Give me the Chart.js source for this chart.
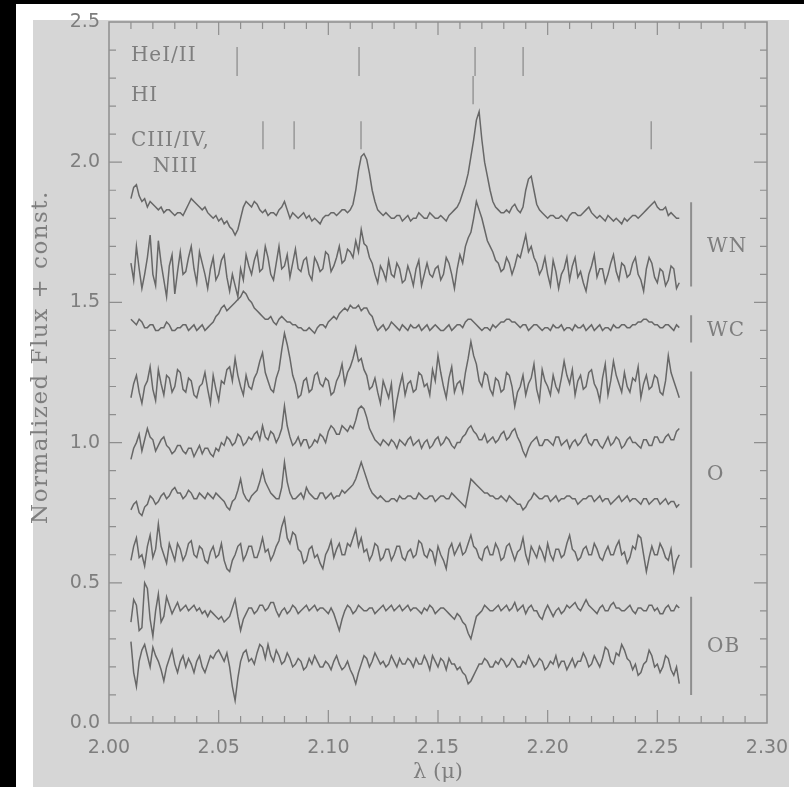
<!DOCTYPE html>
<html>
<head>
<meta charset="utf-8">
<script src="https://cdn.jsdelivr.net/npm/chart.js@4/dist/chart.umd.min.js"></script>
<style>
  html, body { margin: 0; padding: 0; background: #000; overflow: hidden; }
  #c { display: block; }
</style>
</head>
<body>
<canvas id="c" width="804" height="787"></canvas>
<script>
// wavelength grid (micron), 2.010 .. 2.260 every 0.00125
const lambdaStart = 2.010;
const lambdaStep = 0.00125;
const nPoints = 201;
const wavelengths = Array.from({ length: nPoints }, (_, i) => +(lambdaStart + i * lambdaStep).toFixed(5));

// normalized flux + offset, top to bottom
const wn1 = [
  1.87,1.91,1.92,1.88,1.86,1.87,1.84,1.86,1.85,1.84,1.83,1.84,1.82,1.83,1.83,1.82,1.81,1.82,1.82,1.81,
  1.83,1.85,1.87,1.86,1.85,1.84,1.83,1.84,1.82,1.81,1.80,1.81,1.79,1.80,1.78,1.79,1.77,1.76,1.74,1.76,
  1.80,1.84,1.86,1.85,1.84,1.86,1.85,1.83,1.82,1.83,1.81,1.82,1.82,1.81,1.83,1.84,1.86,1.83,1.80,1.82,
  1.81,1.80,1.81,1.82,1.80,1.81,1.79,1.80,1.79,1.78,1.80,1.81,1.81,1.82,1.82,1.81,1.82,1.83,1.83,1.82,
  1.83,1.85,1.90,1.97,2.02,2.03,2.01,1.96,1.90,1.86,1.83,1.82,1.81,1.82,1.81,1.80,1.80,1.81,1.81,1.79,
  1.80,1.81,1.79,1.80,1.80,1.82,1.81,1.80,1.80,1.82,1.81,1.80,1.80,1.81,1.80,1.79,1.81,1.82,1.83,1.84,
  1.86,1.89,1.92,1.96,2.02,2.08,2.15,2.18,2.08,2.00,1.95,1.90,1.86,1.84,1.83,1.82,1.82,1.83,1.82,1.84,
  1.85,1.83,1.82,1.84,1.90,1.94,1.95,1.90,1.85,1.83,1.82,1.81,1.80,1.81,1.81,1.80,1.80,1.81,1.80,1.79,
  1.81,1.82,1.82,1.81,1.81,1.82,1.83,1.84,1.82,1.81,1.80,1.81,1.80,1.79,1.81,1.80,1.79,1.80,1.79,1.78,
  1.80,1.79,1.80,1.81,1.81,1.80,1.81,1.82,1.83,1.84,1.85,1.86,1.84,1.83,1.83,1.84,1.81,1.82,1.81,1.80,
  1.80];
const wn2 = [
  1.64,1.58,1.70,1.62,1.55,1.60,1.66,1.74,1.60,1.56,1.72,1.64,1.58,1.52,1.63,1.67,1.53,1.61,1.68,1.60,
  1.61,1.66,1.70,1.62,1.57,1.68,1.64,1.60,1.55,1.62,1.66,1.58,1.60,1.65,1.67,1.59,1.54,1.60,1.56,1.52,
  1.62,1.58,1.67,1.63,1.60,1.65,1.68,1.61,1.62,1.70,1.66,1.60,1.58,1.64,1.70,1.62,1.63,1.67,1.59,1.64,
  1.69,1.62,1.61,1.65,1.66,1.60,1.58,1.66,1.64,1.61,1.62,1.68,1.67,1.61,1.63,1.66,1.70,1.64,1.65,1.69,
  1.68,1.66,1.72,1.68,1.76,1.71,1.70,1.66,1.64,1.60,1.57,1.63,1.61,1.58,1.65,1.60,1.59,1.64,1.62,1.57,
  1.58,1.63,1.60,1.56,1.62,1.65,1.56,1.60,1.64,1.60,1.59,1.62,1.63,1.58,1.60,1.66,1.64,1.60,1.55,1.62,
  1.67,1.64,1.70,1.73,1.75,1.80,1.86,1.83,1.80,1.76,1.72,1.70,1.68,1.65,1.64,1.61,1.62,1.66,1.64,1.60,
  1.63,1.67,1.66,1.70,1.74,1.68,1.70,1.66,1.64,1.60,1.62,1.66,1.60,1.56,1.65,1.61,1.55,1.60,1.62,1.66,
  1.58,1.63,1.66,1.59,1.61,1.57,1.54,1.60,1.63,1.67,1.59,1.62,1.62,1.57,1.60,1.64,1.67,1.61,1.58,1.64,
  1.63,1.59,1.60,1.64,1.66,1.60,1.58,1.54,1.62,1.66,1.64,1.59,1.57,1.62,1.61,1.56,1.58,1.63,1.62,1.55,
  1.57];
const wc1 = [
  1.44,1.43,1.42,1.44,1.43,1.41,1.41,1.42,1.42,1.40,1.40,1.41,1.41,1.43,1.42,1.40,1.40,1.41,1.41,1.42,
  1.42,1.40,1.41,1.42,1.40,1.41,1.42,1.40,1.41,1.42,1.43,1.45,1.46,1.48,1.49,1.47,1.48,1.49,1.50,1.51,
  1.52,1.54,1.53,1.51,1.50,1.48,1.47,1.46,1.45,1.44,1.44,1.45,1.43,1.42,1.44,1.45,1.44,1.43,1.43,1.42,
  1.42,1.41,1.41,1.40,1.40,1.41,1.40,1.39,1.41,1.42,1.42,1.41,1.43,1.44,1.45,1.44,1.46,1.47,1.48,1.47,
  1.49,1.48,1.48,1.49,1.47,1.48,1.48,1.46,1.45,1.42,1.40,1.41,1.42,1.40,1.41,1.43,1.42,1.41,1.40,1.42,
  1.41,1.40,1.42,1.41,1.41,1.42,1.40,1.41,1.42,1.40,1.41,1.42,1.41,1.40,1.40,1.41,1.42,1.40,1.41,1.42,
  1.42,1.41,1.43,1.44,1.44,1.43,1.42,1.41,1.40,1.41,1.41,1.40,1.42,1.41,1.42,1.43,1.43,1.44,1.44,1.43,
  1.43,1.42,1.41,1.42,1.42,1.40,1.41,1.42,1.42,1.41,1.40,1.41,1.41,1.40,1.42,1.41,1.41,1.42,1.40,1.41,
  1.41,1.40,1.42,1.41,1.41,1.42,1.40,1.41,1.42,1.40,1.41,1.42,1.40,1.41,1.41,1.40,1.42,1.41,1.41,1.42,
  1.42,1.41,1.41,1.42,1.42,1.43,1.43,1.44,1.44,1.43,1.43,1.42,1.42,1.41,1.41,1.42,1.42,1.41,1.40,1.42,
  1.41];
const o1 = [
  1.16,1.21,1.24,1.18,1.14,1.20,1.22,1.27,1.19,1.15,1.26,1.21,1.17,1.24,1.23,1.18,1.20,1.26,1.25,1.19,
  1.18,1.23,1.22,1.17,1.16,1.20,1.21,1.25,1.19,1.14,1.24,1.19,1.15,1.22,1.21,1.26,1.27,1.22,1.30,1.24,
  1.20,1.17,1.24,1.20,1.19,1.23,1.25,1.29,1.32,1.25,1.22,1.19,1.18,1.23,1.26,1.33,1.39,1.35,1.30,1.24,
  1.21,1.16,1.17,1.22,1.23,1.18,1.19,1.24,1.25,1.21,1.20,1.23,1.22,1.17,1.18,1.22,1.24,1.28,1.21,1.25,
  1.27,1.30,1.34,1.29,1.30,1.26,1.24,1.19,1.20,1.23,1.18,1.14,1.22,1.19,1.16,1.21,1.09,1.15,1.20,1.24,
  1.17,1.21,1.22,1.18,1.19,1.25,1.24,1.20,1.21,1.17,1.26,1.22,1.31,1.25,1.20,1.16,1.23,1.27,1.18,1.21,
  1.22,1.18,1.25,1.30,1.36,1.31,1.28,1.22,1.20,1.25,1.24,1.19,1.17,1.23,1.22,1.18,1.19,1.25,1.24,1.20,
  1.13,1.18,1.20,1.24,1.17,1.21,1.23,1.28,1.19,1.15,1.26,1.22,1.20,1.17,1.24,1.20,1.18,1.23,1.29,1.24,
  1.21,1.26,1.17,1.22,1.24,1.19,1.20,1.25,1.26,1.21,1.19,1.15,1.23,1.28,1.17,1.22,1.29,1.24,1.21,1.18,
  1.25,1.20,1.18,1.23,1.22,1.27,1.16,1.21,1.24,1.19,1.20,1.24,1.23,1.18,1.17,1.22,1.31,1.25,1.22,1.19,
  1.16];
const o2 = [
  0.94,0.98,1.00,1.03,0.97,1.01,1.05,1.02,1.01,0.97,0.99,1.01,1.02,0.99,0.98,0.96,0.97,0.99,0.99,0.97,
  0.96,0.98,0.98,0.95,0.97,0.99,0.96,0.98,0.98,0.96,0.95,0.98,0.97,1.00,0.99,1.02,1.01,0.99,1.00,1.03,
  1.02,0.99,1.00,1.02,1.01,1.03,1.04,1.01,1.06,1.02,1.01,1.04,1.03,1.00,1.02,1.05,1.13,1.06,1.02,0.99,
  1.00,1.02,0.99,1.01,1.01,0.98,0.99,1.01,1.00,1.03,1.02,1.00,1.04,1.06,1.05,1.03,1.03,1.06,1.05,1.04,
  1.06,1.05,1.08,1.12,1.13,1.12,1.09,1.05,1.03,1.01,1.00,0.99,1.01,1.00,0.99,1.01,1.00,0.98,1.01,1.00,
  0.99,1.01,1.02,0.99,1.00,1.01,0.98,1.00,1.01,0.98,0.99,1.01,1.02,0.99,1.00,1.02,1.01,0.99,0.98,1.00,
  1.00,1.02,1.03,1.05,1.06,1.04,1.03,1.01,1.01,1.03,1.00,1.01,1.02,1.00,1.01,1.03,1.04,1.01,1.02,1.04,
  1.05,1.02,1.00,0.97,0.95,0.98,1.00,1.01,1.02,0.99,0.99,1.01,1.01,1.00,0.99,1.02,1.02,0.99,1.00,1.01,
  0.98,1.00,1.01,0.99,1.00,1.02,1.03,1.00,0.99,1.01,1.01,0.99,0.98,1.00,1.02,0.99,1.00,1.02,1.01,0.98,
  0.99,1.01,1.02,1.00,1.00,0.99,0.98,1.01,1.01,0.99,0.99,1.02,1.02,1.00,1.00,1.02,1.03,1.01,1.01,1.04,
  1.05];
const o3 = [
  0.76,0.78,0.79,0.75,0.74,0.77,0.78,0.81,0.80,0.78,0.79,0.81,0.82,0.80,0.81,0.83,0.84,0.82,0.82,0.80,
  0.81,0.83,0.82,0.80,0.80,0.82,0.81,0.80,0.82,0.81,0.80,0.82,0.81,0.80,0.79,0.77,0.76,0.79,0.80,0.83,
  0.87,0.82,0.80,0.79,0.81,0.82,0.83,0.86,0.90,0.86,0.84,0.82,0.81,0.80,0.80,0.84,0.93,0.86,0.82,0.80,
  0.80,0.81,0.82,0.80,0.84,0.82,0.81,0.80,0.80,0.82,0.82,0.80,0.81,0.82,0.80,0.81,0.81,0.83,0.82,0.83,
  0.84,0.85,0.87,0.90,0.93,0.90,0.87,0.84,0.82,0.81,0.80,0.81,0.80,0.79,0.79,0.80,0.80,0.79,0.81,0.80,
  0.80,0.81,0.81,0.80,0.80,0.82,0.81,0.80,0.80,0.81,0.81,0.79,0.80,0.81,0.81,0.80,0.80,0.82,0.81,0.80,
  0.79,0.78,0.77,0.82,0.87,0.86,0.85,0.84,0.83,0.82,0.82,0.81,0.81,0.80,0.80,0.81,0.80,0.79,0.81,0.80,
  0.79,0.78,0.78,0.76,0.77,0.79,0.80,0.82,0.81,0.80,0.80,0.81,0.81,0.79,0.80,0.81,0.79,0.80,0.80,0.81,
  0.81,0.80,0.80,0.78,0.79,0.80,0.80,0.81,0.81,0.79,0.80,0.81,0.79,0.80,0.80,0.78,0.79,0.80,0.81,0.79,
  0.80,0.81,0.79,0.80,0.80,0.79,0.78,0.80,0.80,0.78,0.79,0.80,0.80,0.78,0.79,0.80,0.78,0.79,0.79,0.77,
  0.78];
const o4 = [
  0.58,0.63,0.66,0.59,0.60,0.56,0.63,0.67,0.59,0.62,0.71,0.63,0.60,0.57,0.64,0.61,0.58,0.64,0.62,0.58,
  0.60,0.64,0.65,0.60,0.59,0.63,0.62,0.58,0.57,0.61,0.63,0.59,0.60,0.64,0.58,0.55,0.54,0.58,0.60,0.63,
  0.64,0.58,0.60,0.63,0.63,0.59,0.59,0.62,0.66,0.61,0.62,0.58,0.60,0.63,0.65,0.70,0.73,0.66,0.64,0.68,
  0.67,0.62,0.61,0.57,0.58,0.62,0.63,0.59,0.60,0.57,0.55,0.60,0.62,0.65,0.59,0.62,0.64,0.60,0.60,0.64,
  0.63,0.66,0.69,0.63,0.66,0.61,0.62,0.58,0.60,0.64,0.63,0.58,0.59,0.62,0.62,0.58,0.60,0.63,0.63,0.59,
  0.58,0.61,0.62,0.59,0.60,0.65,0.64,0.60,0.59,0.62,0.61,0.57,0.63,0.60,0.58,0.55,0.62,0.64,0.60,0.62,
  0.64,0.60,0.61,0.64,0.67,0.63,0.62,0.59,0.58,0.62,0.63,0.60,0.60,0.64,0.62,0.58,0.59,0.63,0.64,0.61,
  0.58,0.61,0.62,0.66,0.60,0.57,0.63,0.61,0.59,0.63,0.61,0.58,0.64,0.60,0.58,0.62,0.62,0.59,0.60,0.64,
  0.67,0.62,0.61,0.58,0.59,0.62,0.63,0.60,0.60,0.64,0.62,0.59,0.58,0.61,0.63,0.60,0.60,0.63,0.65,0.60,
  0.61,0.57,0.59,0.63,0.62,0.67,0.66,0.60,0.54,0.59,0.63,0.60,0.60,0.64,0.62,0.59,0.58,0.62,0.54,0.58,
  0.60];
const ob1 = [
  0.36,0.44,0.42,0.33,0.34,0.50,0.48,0.37,0.31,0.40,0.46,0.36,0.38,0.45,0.42,0.39,0.41,0.43,0.40,0.41,
  0.42,0.40,0.41,0.42,0.40,0.41,0.39,0.40,0.38,0.40,0.39,0.38,0.37,0.38,0.36,0.37,0.38,0.41,0.44,0.38,
  0.33,0.37,0.39,0.41,0.41,0.39,0.40,0.42,0.42,0.40,0.41,0.43,0.43,0.40,0.38,0.40,0.41,0.39,0.40,0.42,
  0.41,0.39,0.40,0.41,0.42,0.40,0.41,0.42,0.40,0.41,0.41,0.40,0.39,0.41,0.39,0.36,0.33,0.37,0.40,0.42,
  0.41,0.39,0.40,0.42,0.41,0.40,0.40,0.41,0.41,0.39,0.40,0.41,0.42,0.40,0.41,0.42,0.40,0.41,0.42,0.40,
  0.41,0.42,0.40,0.41,0.41,0.40,0.39,0.41,0.40,0.42,0.41,0.39,0.40,0.41,0.41,0.40,0.39,0.38,0.37,0.39,
  0.38,0.36,0.35,0.32,0.30,0.34,0.38,0.39,0.40,0.42,0.41,0.40,0.40,0.41,0.42,0.40,0.41,0.42,0.40,0.41,
  0.43,0.40,0.41,0.42,0.39,0.41,0.42,0.40,0.40,0.38,0.37,0.40,0.42,0.40,0.38,0.40,0.41,0.39,0.40,0.42,
  0.41,0.42,0.43,0.41,0.40,0.42,0.44,0.42,0.41,0.40,0.39,0.41,0.42,0.40,0.40,0.42,0.43,0.41,0.41,0.40,
  0.40,0.41,0.42,0.40,0.39,0.41,0.41,0.40,0.40,0.42,0.42,0.40,0.41,0.39,0.39,0.41,0.42,0.40,0.40,0.42,
  0.41];
const ob2 = [
  0.29,0.18,0.13,0.22,0.26,0.28,0.24,0.20,0.27,0.24,0.22,0.19,0.15,0.20,0.23,0.26,0.21,0.18,0.22,0.24,
  0.20,0.23,0.21,0.18,0.22,0.24,0.20,0.18,0.21,0.24,0.23,0.25,0.26,0.24,0.22,0.25,0.20,0.13,0.08,0.16,
  0.22,0.25,0.26,0.22,0.23,0.21,0.25,0.28,0.27,0.23,0.28,0.24,0.22,0.26,0.24,0.21,0.22,0.25,0.23,0.20,
  0.21,0.23,0.22,0.19,0.20,0.23,0.21,0.24,0.22,0.20,0.20,0.22,0.21,0.19,0.22,0.24,0.21,0.19,0.20,0.22,
  0.19,0.17,0.14,0.18,0.21,0.24,0.23,0.20,0.22,0.25,0.23,0.21,0.22,0.20,0.21,0.24,0.22,0.20,0.23,0.21,
  0.21,0.23,0.22,0.20,0.23,0.21,0.21,0.24,0.22,0.19,0.24,0.22,0.20,0.23,0.22,0.19,0.23,0.21,0.21,0.19,
  0.20,0.18,0.17,0.14,0.15,0.17,0.19,0.21,0.21,0.23,0.22,0.20,0.20,0.22,0.21,0.23,0.22,0.20,0.21,0.23,
  0.22,0.20,0.20,0.22,0.21,0.24,0.22,0.20,0.21,0.23,0.22,0.19,0.20,0.22,0.21,0.24,0.20,0.22,0.22,0.19,
  0.21,0.23,0.20,0.22,0.22,0.25,0.23,0.20,0.21,0.24,0.22,0.20,0.23,0.27,0.26,0.22,0.21,0.25,0.24,0.28,
  0.26,0.23,0.22,0.19,0.21,0.17,0.18,0.21,0.22,0.26,0.24,0.20,0.21,0.18,0.20,0.24,0.23,0.19,0.17,0.20,
  0.14];
const spectra = [wn1, wn2, wc1, o1, o2, o3, o4, ob1, ob2];

// line identifications: wavelength and [bottom, top] of the marker
const heLines = [2.0584, 2.1140, 2.1669, 2.1888];
const heRow = [2.307, 2.411];
const hLines = [2.1660];
const hRow = [2.207, 2.307];
const cnLines = [2.0702, 2.0844, 2.1149, 2.2472];
const cnRow = [2.046, 2.146];

// spectral class brackets
const classNames = ['WN', 'WC', 'O', 'OB'];
const classRanges = [[1.557, 1.857], [1.357, 1.454], [0.554, 1.254], [0.100, 0.450]];
const classLabelY = [1.700, 1.400, 0.886, 0.270];
const bracketX = 2.2654;
const classLabelX = 2.2727;

const rowLabels = ['HeI/II', 'HI', 'CIII/IV,', 'NIII'];
const rowLabelX = [2.010, 2.010, 2.010, 2.020];
const rowLabelY = [2.379, 2.236, 2.075, 1.982];

const xTicks = [2.00, 2.05, 2.10, 2.15, 2.20, 2.25, 2.30];
const yTicks = [0.0, 0.5, 1.0, 1.5, 2.0, 2.5];

const bgGray = '#d6d6d6';
const inkGray = '#676767';
const axisGray = '#8e8e8e';
const textGray = '#7e7e7e';

function segments(xs, row) {
  const pts = [];
  xs.forEach((x) => {
    pts.push({ x: x, y: row[0] }, { x: x, y: row[1] }, { x: x, y: null });
  });
  return pts;
}

const datasets = spectra.map((vals) => ({
  data: wavelengths.map((x, i) => ({ x: x, y: vals[i] })),
  borderColor: inkGray,
  borderWidth: 1.5,
  pointRadius: 0,
  tension: 0,
}));

const markerPts = [].concat(segments(heLines, heRow), segments(hLines, hRow), segments(cnLines, cnRow));
datasets.push({ data: markerPts, borderColor: axisGray, borderWidth: 1.3, pointRadius: 0, spanGaps: false });
datasets.push({
  data: [].concat(...classRanges.map((r) => [{ x: bracketX, y: r[0] }, { x: bracketX, y: r[1] }, { x: bracketX, y: null }])),
  borderColor: axisGray, borderWidth: 2, pointRadius: 0, spanGaps: false,
});

const backdrop = {
  id: 'backdrop',
  beforeDraw(chart) {
    const ctx = chart.ctx;
    ctx.save();
    ctx.fillStyle = '#000';
    ctx.fillRect(0, 0, 804, 787);
    ctx.fillStyle = '#fff';
    ctx.fillRect(16, 4, 788, 783);
    ctx.fillStyle = bgGray;
    ctx.fillRect(33, 20, 756, 767);
    ctx.restore();
  },
};

const frame = {
  id: 'frame',
  afterDatasetsDraw(chart) {
    const { ctx, chartArea: { left, right, top, bottom }, scales: { x, y } } = chart;
    ctx.save();
    ctx.strokeStyle = axisGray;
    ctx.lineWidth = 1.5;
    ctx.strokeRect(left, top, right - left, bottom - top);
    ctx.lineWidth = 1.2;
    ctx.beginPath();
    for (let i = 1; i < 30; i++) {
      const px = x.getPixelForValue(2.0 + i * 0.01);
      const len = i % 5 === 0 ? 13 : 7;
      ctx.moveTo(px, bottom); ctx.lineTo(px, bottom - len);
      ctx.moveTo(px, top); ctx.lineTo(px, top + len);
    }
    for (let i = 1; i < 25; i++) {
      const py = y.getPixelForValue(i * 0.1);
      const len = i % 5 === 0 ? 13 : 7;
      ctx.moveTo(left, py); ctx.lineTo(left + len, py);
      ctx.moveTo(right, py); ctx.lineTo(right - len, py);
    }
    ctx.stroke();

    ctx.fillStyle = textGray;
    ctx.font = '20px "DejaVu Serif"';
    ctx.letterSpacing = '1px';
    ctx.textAlign = 'left';
    ctx.textBaseline = 'middle';
    rowLabels.forEach((t, i) => {
      ctx.fillText(t, x.getPixelForValue(rowLabelX[i]), y.getPixelForValue(rowLabelY[i]));
    });
    classNames.forEach((t, i) => {
      ctx.fillText(t, x.getPixelForValue(classLabelX), y.getPixelForValue(classLabelY[i]));
    });

    // y axis title
    ctx.font = '23px "DejaVu Serif"';
    ctx.letterSpacing = '1.5px';
    ctx.textAlign = 'center';
    ctx.translate(41, 357);
    ctx.rotate(-Math.PI / 2);
    ctx.fillText('Normalized Flux + const.', 0, 0);
    ctx.restore();
  },
};

new Chart(document.getElementById('c'), {
  type: 'line',
  data: { datasets },
  options: {
    responsive: false,
    animation: false,
    devicePixelRatio: 1,
    layout: { padding: { left: 0, right: 37, top: 22, bottom: 0 } },
    plugins: { legend: { display: false }, tooltip: { enabled: false } },
    scales: {
      x: {
        type: 'linear',
        min: 2.0,
        max: 2.3,
        afterFit(s) { s.height = 64; },
        afterBuildTicks(s) { s.ticks = xTicks.map((v) => ({ value: v })); },
        grid: { display: false, drawTicks: false },
        border: { display: false },
        ticks: {
          autoSkip: false,
          maxRotation: 0,
          padding: 14,
          color: textGray,
          font: { family: 'DejaVu Sans', size: 19 },
          callback: (v) => Number(v).toFixed(2),
        },
        title: {
          display: true,
          text: 'λ (μ)',
          color: textGray,
          font: { family: 'DejaVu Serif', size: 21 },
          padding: { top: 0, bottom: 2 },
        },
      },
      y: {
        type: 'linear',
        min: 0,
        max: 2.5,
        afterFit(s) { s.width = 109; },
        afterBuildTicks(s) { s.ticks = yTicks.map((v) => ({ value: v })); },
        grid: { display: false, drawTicks: false },
        border: { display: false },
        ticks: {
          autoSkip: false,
          padding: 9,
          color: textGray,
          font: { family: 'DejaVu Sans', size: 19 },
          callback: (v) => Number(v).toFixed(1),
        },
      },
    },
  },
  plugins: [backdrop, frame],
});
</script>
</body>
</html>
